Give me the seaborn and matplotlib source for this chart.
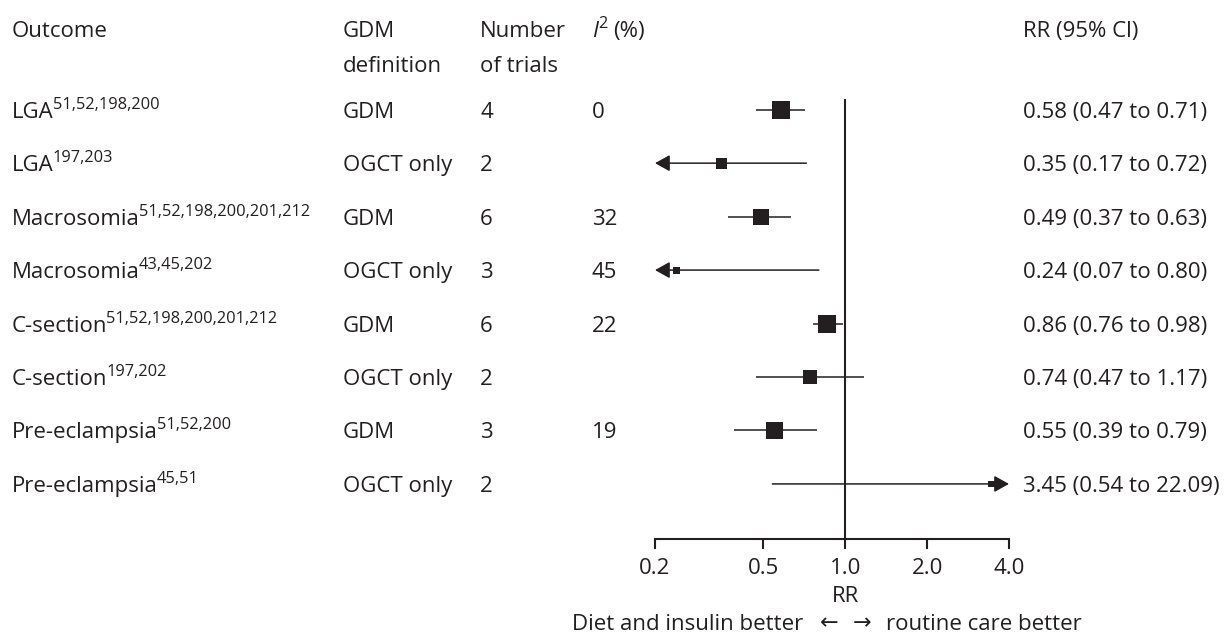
import numpy as np
import pandas as pd
import seaborn as sns
import matplotlib.pyplot as plt
import matplotlib.transforms as mtransforms
from matplotlib.ticker import FixedLocator, NullLocator

# righe del forest plot (dall'alto verso il basso)
outcomes = ["LGA", "LGA", "Macrosomia", "Macrosomia",
            "C-section", "C-section", "Pre-eclampsia", "Pre-eclampsia"]
refs = ["51,52,198,200", "197,203", "51,52,198,200,201,212", "43,45,202",
        "51,52,198,200,201,212", "197,202", "51,52,200", "45,51"]
definitions = ["GDM", "OGCT only", "GDM", "OGCT only",
               "GDM", "OGCT only", "GDM", "OGCT only"]
n_trials = [4, 2, 6, 3, 6, 2, 3, 2]
i2 = ["0", "", "32", "45", "22", "", "19", ""]
rr = [0.58, 0.35, 0.49, 0.24, 0.86, 0.74, 0.55, 3.45]
ci_low = [0.47, 0.17, 0.37, 0.07, 0.76, 0.47, 0.39, 0.54]
ci_high = [0.71, 0.72, 0.63, 0.80, 0.98, 1.17, 0.79, 22.09]
weights = [32, 12, 26, 5, 32, 20, 26, 4]   # peso relativo (area del quadrato)
tick_values = [0.2, 0.5, 1.0, 2.0, 4.0]
tick_labels = ["0.2", "0.5", "1.0", "2.0", "4.0"]

sns.set_style("white")
plt.rcParams['font.family'] = ['Open Sans', 'DejaVu Sans']

ink = "#231f20"
fs = 16
W, H = 1227, 639

df = pd.DataFrame({"row": np.arange(len(rr)), "rr": rr, "lo": ci_low,
                   "hi": ci_high, "weight": weights})

fig = plt.figure(figsize=(W / 100, H / 100), dpi=100)
ax = fig.add_axes([655 / W, 1 - 539 / H, 354 / W, 440 / H])
ax.set_xscale("log")
xmin, xmax = tick_values[0], tick_values[-1]
ax.set_xlim(xmin, xmax)
ax.set_ylim(8.03, -0.2)

# intervalli di confidenza, con freccia se escono dall'asse
head = "-|>,head_length=0.9,head_width=0.5"
for r in df.itertuples():
    lo, hi = max(r.lo, xmin), min(r.hi, xmax)
    if r.lo < xmin or r.hi > xmax:
        tip, tail = (lo, hi) if r.lo < xmin else (hi, lo)
        ax.annotate("", xy=(tip, r.row), xytext=(tail, r.row),
                    arrowprops=dict(arrowstyle=head, mutation_scale=10, color=ink,
                                    lw=1.1, shrinkA=0, shrinkB=0),
                    annotation_clip=False)
    else:
        ax.plot([lo, hi], [r.row, r.row], color=ink, lw=1.1, solid_capstyle="butt")

sns.scatterplot(data=df, x="rr", y="row", size="weight", sizes=(19, 168),
                size_norm=(4, 32), marker="s", color=ink, linewidth=0,
                legend=False, ax=ax, zorder=3)

ax.axvline(1.0, color=ink, lw=1.5)

for s in ["top", "right", "left"]:
    ax.spines[s].set_visible(False)
ax.spines["bottom"].set_color(ink)
ax.spines["bottom"].set_linewidth(1.5)
ax.xaxis.set_major_locator(FixedLocator(tick_values))
ax.xaxis.set_minor_locator(NullLocator())
ax.set_xticklabels(tick_labels)
ax.tick_params(axis="x", bottom=True, direction="out", length=7.5, width=1.5,
               pad=6, labelsize=fs, colors=ink)
ax.set_yticks([])
ax.set_xlabel("")
ax.set_ylabel("")

# colonne di testo (allineate sulla linea di base)
trans = mtransforms.blended_transform_factory(fig.transFigure, ax.transData)
base = 0.15
for i in range(len(rr)):
    y = i + base
    t = ax.text(12 / W, y, outcomes[i], transform=trans, ha="left",
                va="baseline", fontsize=fs, color=ink)
    ax.annotate(refs[i], xy=(1, y), xycoords=(t, ax.transData),
                xytext=(-0.8, 6.5), textcoords="offset points", ha="left",
                va="baseline", fontsize=fs * 0.74, color=ink)
    ax.text(343 / W, y, definitions[i], transform=trans, ha="left",
            va="baseline", fontsize=fs, color=ink)
    ax.text(480 / W, y, str(n_trials[i]), transform=trans, ha="left",
            va="baseline", fontsize=fs, color=ink)
    ax.text(592 / W, y, i2[i], transform=trans, ha="left", va="baseline",
            fontsize=fs, color=ink)
    ax.text(1023 / W, y, f"{rr[i]:.2f} ({ci_low[i]:.2f} to {ci_high[i]:.2f})",
            transform=trans, ha="left", va="baseline", fontsize=fs, color=ink)

# intestazioni
y1, y2 = 1 - 37 / H, 1 - 72 / H
fig.text(12 / W, y1, "Outcome", ha="left", va="baseline", fontsize=fs, color=ink)
fig.text(343 / W, y1, "GDM", ha="left", va="baseline", fontsize=fs, color=ink)
fig.text(343 / W, y2, "definition", ha="left", va="baseline", fontsize=fs, color=ink)
fig.text(480 / W, y1, "Number", ha="left", va="baseline", fontsize=fs, color=ink)
fig.text(480 / W, y2, "of trials", ha="left", va="baseline", fontsize=fs, color=ink)
ti = fig.text(592 / W, y1, "I", ha="left", va="baseline", fontsize=fs, color=ink,
              style="italic")
ax.annotate("2", xy=(1, y1), xycoords=(ti, fig.transFigure), xytext=(0.5, 6.5),
            textcoords="offset points", ha="left", va="baseline",
            fontsize=fs * 0.74, color=ink)
fig.text(613 / W, y1, "(%)", ha="left", va="baseline", fontsize=fs, color=ink)
fig.text(1023 / W, y1, "RR (95% Cl)", ha="left", va="baseline", fontsize=fs, color=ink)

fig.text(845 / W, 1 - 597 / H, "RR", ha="center", va="center", fontsize=fs, color=ink)
yb = 1 - 624 / H
fig.text(803 / W, yb, "Diet and insulin better", ha="right", va="center",
         fontsize=fs, color=ink)
fig.text(829 / W, yb, "\u2190", ha="center", va="center", fontsize=fs, color=ink)
fig.text(862 / W, yb, "\u2192", ha="center", va="center", fontsize=fs, color=ink)
fig.text(886 / W, yb, "routine care better", ha="left", va="center",
         fontsize=fs, color=ink)

fig.savefig("out.png", dpi=100)
